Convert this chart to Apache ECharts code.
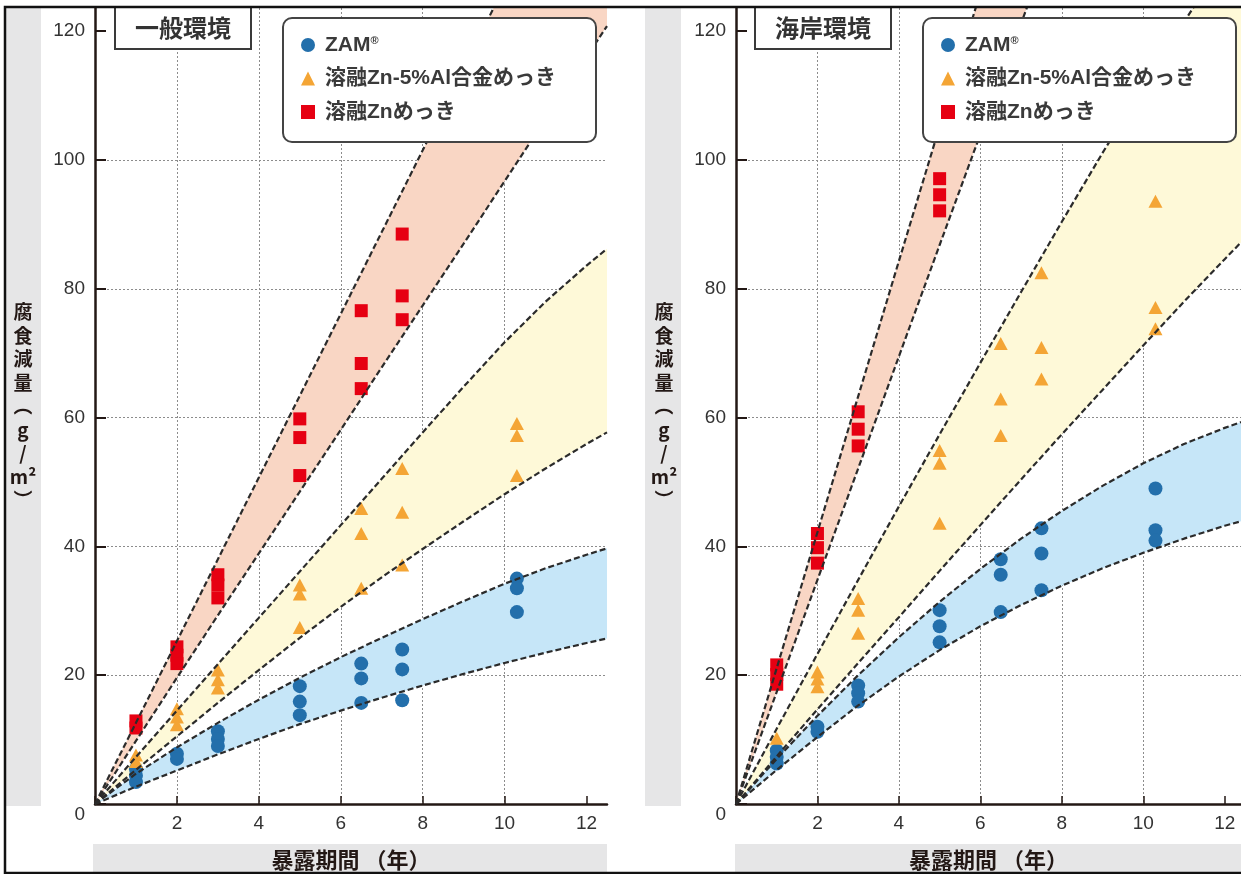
<!DOCTYPE html>
<html>
<head>
<meta charset="utf-8">
<title>腐食減量</title>
<script src="https://cdn.jsdelivr.net/npm/echarts@6.0.0/dist/echarts.min.js"></script>
<style>
    html, body { margin: 0; padding: 0; background: #fff; }
    #chart { width: 1241px; height: 874px; }
</style>
</head>
<body>
<div id="chart"></div>
<script>
    // ---- data ----
    const seriesNames = ['ZAM', '溶融Zn-5%Al合金めっき', '溶融Znめっき'];
    const panelTitles = ['一般環境', '海岸環境'];
    const yTicks = [0, 20, 40, 60, 80, 100, 120];
    const xTicks = [0, 2, 4, 6, 8, 10, 12];

    // 一般環境
    const zamL = [[1, 5.4], [1, 4.4], [1, 3.4], [2, 7.8], [2, 7.0], [3, 11.3], [3, 10.1], [3, 9.0],
        [5, 18.3], [5, 15.9], [5, 13.8], [6.5, 21.8], [6.5, 19.5], [6.5, 15.7],
        [7.5, 24.0], [7.5, 20.9], [7.5, 16.1], [10.3, 35.0], [10.3, 33.5], [10.3, 29.8]];
    const znAlL = [[1, 7.6], [1, 6.6], [2, 14.8], [2, 13.5], [2, 12.3], [3, 20.8], [3, 19.3], [3, 18.0],
        [5, 34.0], [5, 32.6], [5, 27.4], [6.5, 45.9], [6.5, 42.0], [6.5, 33.5],
        [7.5, 52.1], [7.5, 45.3], [7.5, 37.1], [10.3, 59.1], [10.3, 57.2], [10.3, 51.0]];
    const znL = [[1, 12.9], [1, 11.8], [2, 24.4], [2, 23.1], [2, 21.8], [3, 35.6], [3, 34.0], [3, 32.0],
        [5, 59.8], [5, 56.9], [5, 51.0], [6.5, 76.6], [6.5, 68.4], [6.5, 64.5],
        [7.5, 88.5], [7.5, 78.9], [7.5, 75.2]];

    // 海岸環境
    const zamR = [[1, 8.3], [1, 7.3], [1, 6.3], [2, 12.0], [2, 11.2], [3, 18.4], [3, 17.2], [3, 15.9],
        [5, 30.1], [5, 27.6], [5, 25.1], [6.5, 38.0], [6.5, 35.6], [6.5, 29.8],
        [7.5, 42.8], [7.5, 38.9], [7.5, 33.2], [10.3, 49.0], [10.3, 42.5], [10.3, 40.9]];
    const znAlR = [[1, 10.2], [2, 20.5], [2, 19.4], [2, 18.2], [3, 31.9], [3, 30.1], [3, 26.5],
        [5, 54.9], [5, 52.9], [5, 43.6], [6.5, 71.5], [6.5, 62.9], [6.5, 57.2],
        [7.5, 82.5], [7.5, 70.9], [7.5, 66.0], [10.3, 93.6], [10.3, 77.1], [10.3, 73.8]];
    const znR = [[1, 21.6], [1, 20.1], [1, 18.6], [2, 42.0], [2, 39.8], [2, 37.4],
        [3, 60.9], [3, 58.2], [3, 55.6], [5, 97.1], [5, 94.6], [5, 92.1]];

    // band edges (dashed curves)
    const yearsL = [0, 1, 2, 3, 4, 5, 6, 7, 8, 9, 10, 11, 12, 12.5];
    const redHiL = [0, 12.6, 25.3, 38.0, 50.7, 63.4, 76.1, 88.8, 101.5, 114.3, 127.0, 139.7, 152.4, 158.8];
    const redLoL = [0, 9.8, 19.6, 29.3, 38.9, 48.5, 58.1, 67.8, 77.4, 87.0, 96.7, 106.4, 116.0, 120.8];
    const ylwHiL = [0, 7.3, 14.5, 21.7, 28.9, 36.1, 43.3, 50.5, 57.7, 64.8, 71.7, 78.0, 83.6, 86.2];
    const ylwLoL = [0, 5.3, 10.5, 15.7, 20.8, 25.8, 30.6, 35.2, 39.6, 43.9, 48.1, 52.1, 55.9, 57.7];
    const bluHiL = [0, 4.7, 8.8, 12.6, 16.2, 19.6, 22.8, 25.8, 28.7, 31.5, 34.2, 36.6, 38.7, 39.7];
    const bluLoL = [0, 2.7, 5.2, 7.7, 10.1, 12.4, 14.5, 16.5, 18.4, 20.2, 21.9, 23.5, 25.0, 25.7];

    const yearsR = [0, 1, 2, 3, 4, 5, 6, 7, 8, 9, 10, 11, 12, 12.4];
    const redHiR = [0, 21.1, 42.2, 63.3, 84.3, 105.2, 126.0, 146.8, 167.6, 188.4, 209.2, 230.0, 250.8, 259.1];
    const redLoR = [0, 17.4, 34.8, 52.1, 69.5, 86.8, 104.0, 121.2, 138.4, 155.6, 172.8, 190.0, 207.2, 214.0];
    const ylwHiR = [0, 11.7, 23.3, 34.8, 46.2, 57.4, 68.5, 79.5, 90.4, 101.1, 111.3, 121.4, 131.3, 135.2];
    const ylwLoR = [0, 7.4, 14.7, 21.9, 29.0, 36.2, 43.3, 50.4, 57.4, 64.3, 71.2, 78.0, 84.6, 87.2];
    const bluHiR = [0, 7.0, 13.7, 20.0, 25.9, 31.4, 36.5, 41.2, 45.5, 49.4, 52.9, 55.9, 58.4, 59.3];
    const bluLoR = [0, 5.3, 10.4, 15.3, 19.8, 23.9, 27.6, 30.9, 33.9, 36.6, 39.0, 41.2, 43.2, 43.9];

    // ---- styles ----
    const FONT = "'Liberation Sans', 'Noto Sans CJK JP', sans-serif";
    const CJK = "'Noto Sans CJK JP', sans-serif";
    const INK = '#231815';
    const dash = {color: '#2b2b2b', width: 2.2, type: [6, 3]};
    const grids = [
        {left: 95, top: 8, width: 512, height: 796},
        {left: 736, top: 8, width: 505, height: 796}
    ];
    const xMax = [12.5, 12.4];
    const yMax = 123.6;

    function xAxisFor(i) {
        return {
            type: 'value', gridIndex: i, min: 0, max: xMax[i], interval: 2,
            name: '暴露期間 （年）', nameLocation: 'middle', nameGap: 56,
            nameTextStyle: {fontFamily: CJK, fontSize: 22, fontWeight: 'bold', color: INK, align: 'center', verticalAlign: 'middle'},
            axisLine: {show: true, onZero: false, lineStyle: {color: INK, width: 2.5}},
            axisTick: {show: true, inside: true, length: 8, customValues: xTicks, lineStyle: {color: INK, width: 1.5}},
            axisLabel: {
                margin: 10, fontSize: 19, color: '#333', fontFamily: FONT,
                formatter: v => (v > 0 && v % 2 === 0) ? String(v) : ''
            },
            splitLine: {show: true, showMaxLine: false, lineStyle: {color: '#8c8c8c', width: 1, type: [2, 2]}}
        }
    }

    function yAxisFor(i) {
        return {
            type: 'value', gridIndex: i, min: 0, max: yMax, interval: 20,
            name: '腐\n食\n減\n量\n︵\ng\n/\nm²\n︶', nameLocation: 'middle', nameGap: 72, nameRotate: 0,
            nameTextStyle: {fontFamily: CJK, fontSize: 19, fontWeight: 'bold', color: INK, align: 'center',
                verticalAlign: 'middle', lineHeight: 23.5, padding: [18, 0, 0, 0]},
            axisLine: {show: true, onZero: false, lineStyle: {color: INK, width: 2.5}},
            axisTick: {show: true, inside: true, length: 11, customValues: yTicks, lineStyle: {color: INK, width: 2}},
            axisLabel: {
                margin: 10, fontSize: 19, color: '#333', fontFamily: FONT,
                formatter: v => v === 0 ? '{z|0}' : (v % 20 === 0 ? String(v) : ''),
                rich: {z: {fontSize: 19, color: '#333', fontFamily: FONT, padding: [22, 0, 0, 0]}}
            },
            splitLine: {show: true, showMaxLine: false, lineStyle: {color: '#8c8c8c', width: 1, type: [2, 2]}}
        }
    }

    // filled band: polygon through the upper edge and back along the lower edge
    function bandFill(i, years, lo, hi, fill) {
        const ring = years.map((t, k) => [t, hi[k]]).concat(years.map((t, k) => [t, lo[k]]).reverse());
        return {
            type: 'custom', xAxisIndex: i, yAxisIndex: i, data: ring, clip: true, silent: true, z: 1,
            renderItem: function (params, api) {
                if (params.dataIndexInside !== 0) {
                    return null
                }
                const pts = [];
                for (let k = 0; k < params.dataInsideLength; k++) {
                    pts.push(api.coord([api.value(0, k), api.value(1, k)]))
                }
                return {type: 'polygon', shape: {points: pts}, style: {fill: fill}}
            }
        }
    }

    function bandSeries(i, years, lo, hi, fill) {
        const base = {type: 'line', xAxisIndex: i, yAxisIndex: i, symbol: 'none', silent: true, z: 4, lineStyle: dash};
        return [
            bandFill(i, years, lo, hi, fill),
            Object.assign({}, base, {data: years.map((t, k) => [t, lo[k]])}),
            Object.assign({}, base, {data: years.map((t, k) => [t, hi[k]])})
        ]
    }

    function pointSeries(i, zam, znAl, zn) {
        return [
            {type: 'scatter', name: seriesNames[0], xAxisIndex: i, yAxisIndex: i, data: zam,
                symbol: 'circle', symbolSize: 14, itemStyle: {color: '#236fab', opacity: 1}, z: 3},
            {type: 'scatter', name: seriesNames[1], xAxisIndex: i, yAxisIndex: i, data: znAl,
                symbol: 'triangle', symbolSize: [14, 13], itemStyle: {color: '#f4a535', opacity: 1}, z: 3},
            {type: 'scatter', name: seriesNames[2], xAxisIndex: i, yAxisIndex: i, data: zn,
                symbol: 'rect', symbolSize: 13, itemStyle: {color: '#e60012', opacity: 1}, z: 3}
        ]
    }

    function legendFor(left) {
        return {
            left: left, top: 18, orient: 'vertical', data: seriesNames, z: 20,
            itemWidth: 14, itemHeight: 14, itemGap: 9.5,
            padding: [15, 40, 18, 18],
            backgroundColor: '#fff', borderColor: '#444', borderWidth: 2, borderRadius: 9,
            formatter: name => name === 'ZAM' ? 'ZAM{s|®}' : name,
            textStyle: {
                fontFamily: FONT, fontSize: 21, fontWeight: 'bold', color: '#3a3a3a', lineHeight: 24,
                padding: [0, 0, 0, 5],
                rich: {s: {fontFamily: FONT, fontSize: 11, fontWeight: 'bold', color: '#3a3a3a', padding: [0, 0, 9, 0]}}
            }
        }
    }

    function titleFor(text, left) {
        return {
            text: text, left: left, top: 7, z: 20,
            padding: [9, 20, 9, 20],
            backgroundColor: '#fff', borderColor: '#3a3a3a', borderWidth: 2,
            textStyle: {fontFamily: CJK, fontSize: 24, fontWeight: 'bold', color: '#333'}
        }
    }

    const chart = echarts.init(document.getElementById('chart'), null, {renderer: 'canvas'});

    chart.setOption({
        animation: false,
        backgroundColor: '#fff',
        title: [titleFor(panelTitles[0], 115), titleFor(panelTitles[1], 755)],
        legend: [legendFor(283), legendFor(923)],
        grid: grids.map(g => Object.assign({outerBoundsMode: 'none'}, g)),
        xAxis: [xAxisFor(0), xAxisFor(1)],
        yAxis: [yAxisFor(0), yAxisFor(1)],
        graphic: [
            {type: 'rect', z: -1, shape: {x: 6, y: 8, width: 35, height: 798}, style: {fill: '#e6e6e7'}},
            {type: 'rect', z: -1, shape: {x: 645, y: 8, width: 36, height: 798}, style: {fill: '#e6e6e7'}},
            {type: 'rect', z: -1, shape: {x: 93, y: 844, width: 514, height: 30}, style: {fill: '#e6e6e7'}},
            {type: 'rect', z: -1, shape: {x: 735, y: 844, width: 506, height: 30}, style: {fill: '#e6e6e7'}},
            {type: 'rect', z: 100, silent: true, shape: {x: 5, y: 7, width: 1250, height: 866},
                style: {fill: null, stroke: '#111', lineWidth: 2.5}}
        ],
        series: [].concat(
            bandSeries(0, yearsL, redLoL, redHiL, '#f9d6c4'),
            bandSeries(0, yearsL, ylwLoL, ylwHiL, '#fef9d8'),
            bandSeries(0, yearsL, bluLoL, bluHiL, '#c6e6f8'),
            pointSeries(0, zamL, znAlL, znL),
            bandSeries(1, yearsR, redLoR, redHiR, '#f9d6c4'),
            bandSeries(1, yearsR, ylwLoR, ylwHiR, '#fef9d8'),
            bandSeries(1, yearsR, bluLoR, bluHiR, '#c6e6f8'),
            pointSeries(1, zamR, znAlR, znR)
        )
    })
</script>
</body>
</html>
